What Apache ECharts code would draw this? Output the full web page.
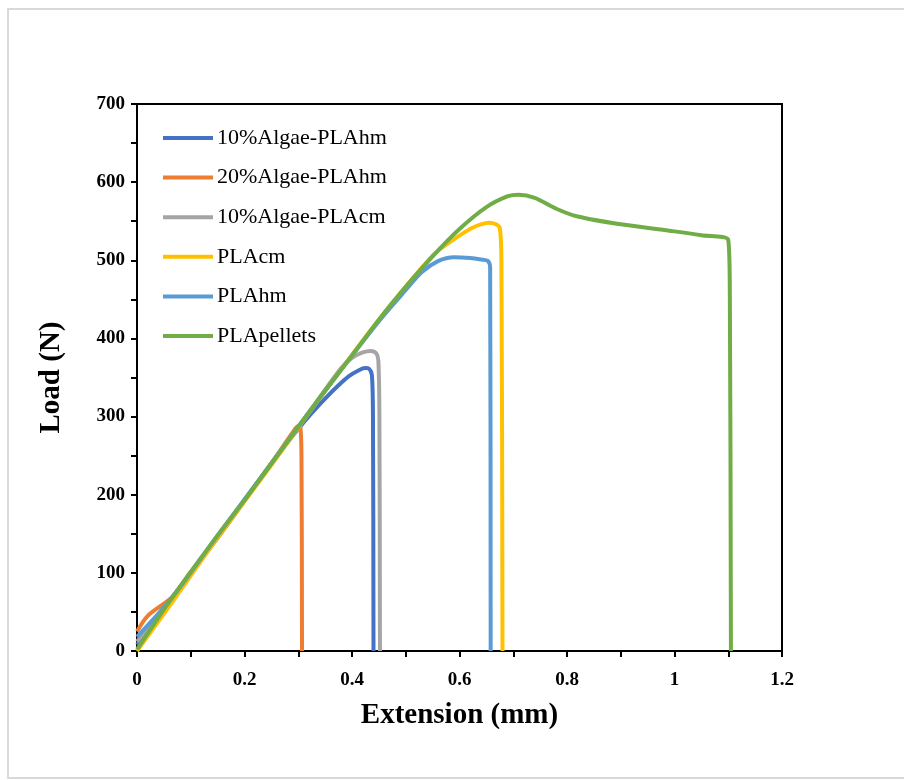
<!DOCTYPE html>
<html><head><meta charset="utf-8">
<script src="https://cdn.jsdelivr.net/npm/echarts@6/dist/echarts.min.js"></script>
<style>html,body{margin:0;padding:0;background:#fff}#c{width:904px;height:780px}</style>
</head><body><div id="c"></div>
<script>
var seriesNames = ['10%Algae-PLAhm','20%Algae-PLAhm','10%Algae-PLAcm','PLAcm','PLAhm','PLApellets'];
var xTicks = [0, 0.2, 0.4, 0.6, 0.8, 1, 1.2];
var yTicks = [0, 100, 200, 300, 400, 500, 600, 700];

var algae10hmX = [0, 0.065, 0.15, 0.2, 0.254, 0.3, 0.322, 0.35, 0.375, 0.395, 0.412, 0.424, 0.432, 0.437, 0.439, 0.44];
var algae10hmY = [8, 68, 145, 193, 244, 284, 302, 323, 340, 352, 359, 362, 361, 353, 300, 0];

var algae20hmX = [0, 0.02, 0.065, 0.1, 0.15, 0.2, 0.25, 0.29, 0.3, 0.304, 0.306, 0.307];
var algae20hmY = [25, 45, 69, 101, 145, 192, 240, 280, 288, 286, 250, 0];

var algae10cmX = [0, 0.065, 0.15, 0.25, 0.33, 0.38, 0.40, 0.42, 0.435, 0.445, 0.449, 0.451, 0.452];
var algae10cmY = [12, 68, 146, 240, 315, 362, 375, 382, 384, 381, 372, 300, 0];

var plaCmX = [0, 0.065, 0.15, 0.25, 0.35, 0.45, 0.55, 0.588, 0.61, 0.625, 0.64, 0.655, 0.668, 0.675, 0.678, 0.68];
var plaCmY = [0, 62, 145, 238, 333, 424, 506, 526, 536, 542, 546, 548, 546, 541, 500, 0];

var plaHmX = [0, 0.065, 0.15, 0.25, 0.35, 0.45, 0.5, 0.53, 0.56, 0.59, 0.62, 0.64, 0.653, 0.657, 0.658];
var plaHmY = [18, 68, 148, 240, 333, 422, 462, 485, 499, 504, 503, 501, 499, 490, 0];

var pelletsX = [0, 0.065, 0.15, 0.2, 0.25, 0.3, 0.35, 0.4, 0.45, 0.5, 0.55, 0.6, 0.65, 0.69, 0.71, 0.74, 0.78, 0.82, 0.9, 1.0, 1.05, 1.1, 1.103, 1.105];
var pelletsY = [2, 68, 148, 193, 240, 287, 333, 378, 424, 466, 505, 540, 568, 582, 584, 580, 566, 556, 546, 537, 532, 526, 450, 0];

var colors = ['#4472C4', '#ED7D31', '#A5A5A5', '#FFC000', '#5B9BD5', '#70AD47'];
var xs = [algae10hmX, algae20hmX, algae10cmX, plaCmX, plaHmX, pelletsX];
var ys = [algae10hmY, algae20hmY, algae10cmY, plaCmY, plaHmY, pelletsY];

function pairs(a, b) { return a.map(function (v, i) { return [v, b[i]]; }); }

var chart = echarts.init(document.getElementById('c'), null, {renderer: 'canvas'});
var serif = '"Liberation Serif", "Times New Roman", serif';
chart.setOption({
  animation: false,
  backgroundColor: '#fff',
  color: colors,
  graphic: [{
    type: 'rect', z: -10, silent: true,
    shape: {x: 8, y: 9, width: 910, height: 769},
    style: {fill: 'none', stroke: '#d9d9d9', lineWidth: 2}
  }],
  grid: {left: 137, right: 122, top: 104, bottom: 129, show: true, borderColor: '#000', borderWidth: 2, backgroundColor: 'transparent'},
  legend: {
    orient: 'vertical', left: 163, top: 127, padding: 0,
    icon: 'rect', itemWidth: 50, itemHeight: 4, itemGap: 17.6,
    textStyle: {fontFamily: serif, fontSize: 22, color: '#000', lineHeight: 22, padding: [0, 0, 0, -1]},
    data: seriesNames
  },
  xAxis: {
    type: 'value', min: 0, max: 1.2, interval: 0.2,
    name: 'Extension (mm)', nameLocation: 'middle', nameGap: 50,
    nameTextStyle: {fontFamily: serif, fontSize: 29, fontWeight: 'bold', color: '#000'},
    axisLine: {lineStyle: {color: '#000', width: 2}},
    axisTick: {inside: false, length: 6, lineStyle: {color: '#000', width: 2}},
    minorTick: {show: true, splitNumber: 2, length: 6, lineStyle: {color: '#000', width: 2}},
    splitLine: {show: false},
    axisLabel: {fontFamily: serif, fontSize: 19, fontWeight: 'bold', color: '#000', margin: 20,
      formatter: function (v) { var i = xTicks.indexOf(Math.round(v * 10) / 10); return i >= 0 ? String(xTicks[i]) : ''; }}
  },
  yAxis: {
    type: 'value', min: 0, max: 700, interval: 100,
    name: 'Load (N)', nameLocation: 'middle', nameGap: 71, nameRotate: 90,
    nameTextStyle: {fontFamily: serif, fontSize: 29, fontWeight: 'bold', color: '#000'},
    axisLine: {lineStyle: {color: '#000', width: 2}},
    axisTick: {inside: false, length: 6, lineStyle: {color: '#000', width: 2}},
    minorTick: {show: true, splitNumber: 2, length: 6, lineStyle: {color: '#000', width: 2}},
    splitLine: {show: false},
    axisLabel: {fontFamily: serif, fontSize: 19, fontWeight: 'bold', color: '#000', margin: 12,
      formatter: function (v) { return yTicks.indexOf(v) >= 0 ? String(v) : ''; }}
  },
  series: seriesNames.map(function (n, i) {
    return {
      name: n, type: 'line', data: pairs(xs[i], ys[i]),
      showSymbol: false, symbol: 'none', smooth: 0.3,
      lineStyle: {width: 4, color: colors[i]}, itemStyle: {color: colors[i]}
    };
  })
});
</script></body></html>
